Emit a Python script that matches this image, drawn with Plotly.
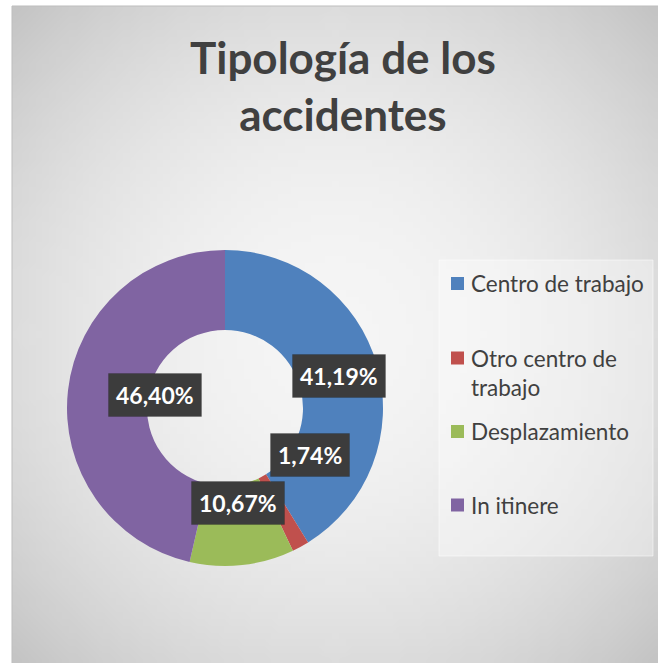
import base64, math, struct, zlib
import plotly.graph_objects as go

# ---- data ----
categories = ["Centro de trabajo", "Otro centro de trabajo", "Desplazamiento", "In itinere"]
legend_labels = ["Centro de trabajo", "Otro centro de<br>trabajo", "Desplazamiento", "In itinere"]
percentages = [41.19, 1.74, 10.67, 46.40]
colors = ["#4F81BD", "#C0504D", "#9BBB59", "#8064A2"]
title_text = "Tipología de los<br>accidentes"

W, H = 658, 663
def px(x): return x / W
def py(y): return 1 - y / H

# ---- background radial gradient image ----
def gradient_png(n=96):
    rows = []
    for j in range(n):
        row = bytearray([0])
        for i in range(n):
            dx = (i + 0.5) / n - 0.5
            dy = (j + 0.5) / n - 0.5
            d = math.sqrt(dx * dx + dy * dy) / math.sqrt(0.5)
            v = 245 - (245 - 195) * d ** 2.0
            row.append(max(0, min(255, int(round(v)))))
        rows.append(bytes(row))
    raw = b"".join(rows)
    def chunk(t, data):
        c = struct.pack(">I", len(data)) + t + data
        return c + struct.pack(">I", zlib.crc32(t + data) & 0xFFFFFFFF)
    png = b"\x89PNG\r\n\x1a\n"
    png += chunk(b"IHDR", struct.pack(">IIBBBBB", n, n, 8, 0, 0, 0, 0))
    png += chunk(b"IDAT", zlib.compress(raw, 9))
    png += chunk(b"IEND", b"")
    return "data:image/png;base64," + base64.b64encode(png).decode()

# ---- donut geometry (pixels) ----
cx, cy, R, r_in = 225, 408, 158, 78

fig = go.Figure()
fig.add_trace(go.Pie(
    labels=categories, values=percentages,
    marker=dict(colors=colors, line=dict(width=0)),
    hole=r_in / R, sort=False, direction="clockwise", rotation=0,
    textinfo="none", showlegend=False, hoverinfo="label+percent",
    domain=dict(x=[px(cx - R), px(cx + R)], y=[py(cy + R), py(cy - R)]),
))

annotations = []
shapes = []

# chart area border
shapes.append(dict(type="rect", xref="paper", yref="paper",
                   x0=px(12), x1=px(W + 2), y0=py(H + 2), y1=py(6),
                   line=dict(color="#bdbdbd", width=1), layer="below"))

# data labels
label_offsets = {1: (29, 35)}  # manual nudge (best-fit style) for the small slice
rho = (R + r_in) / 2
cum = 0.0
total = sum(percentages)
for i, v in enumerate(percentages):
    mid = (cum + v / 2) / total * 2 * math.pi
    cum += v
    lx = cx + rho * math.sin(mid)
    ly = cy - rho * math.cos(mid)
    xs, ys = label_offsets.get(i, (0, 0))
    txt = f"{v:.2f}".replace(".", ",") + "%"
    annotations.append(dict(x=px(lx), y=py(ly), xref="paper", yref="paper",
                            text=txt, showarrow=False, xshift=xs, yshift=ys,
                            font=dict(family="Lato", size=23, color="white", weight="bold"),
                            bgcolor="#3c3c3c", borderpad=7,
                            bordercolor="rgba(0,0,0,0.15)", borderwidth=1))

# title
annotations.append(dict(x=px(343), y=py(29), xref="paper", yref="paper",
                        xanchor="center", yanchor="top", text=title_text, showarrow=False,
                        font=dict(family="Lato", size=44, color="#404040", weight="bold")))

# manual legend
shapes.append(dict(type="rect", xref="paper", yref="paper",
                   x0=px(439), x1=px(653), y0=py(556), y1=py(260),
                   fillcolor="rgba(255,255,255,0.35)", line=dict(color="rgba(255,255,255,0.5)", width=1)))
leg_first_line = [283.5, 358, 431.5, 505]
line_h = 29
for i, lab in enumerate(legend_labels):
    yc = leg_first_line[i]
    shapes.append(dict(type="rect", xref="paper", yref="paper",
                       x0=px(451), x1=px(464), y0=py(yc + 6.5), y1=py(yc - 6.5),
                       fillcolor=colors[i], line=dict(width=0)))
    nlines = lab.count("<br>") + 1
    ymid = yc + (nlines - 1) * line_h / 2
    annotations.append(dict(x=px(469), y=py(ymid), xref="paper", yref="paper",
                            xanchor="left", yanchor="middle", align="left",
                            text=lab, showarrow=False,
                            font=dict(family="Lato", size=22.5, color="#404040")))

fig.update_layout(
    width=W, height=H, autosize=False,
    margin=dict(l=0, r=0, t=0, b=0),
    paper_bgcolor="white", plot_bgcolor="white",
    shapes=shapes, annotations=annotations,
    images=[dict(source=gradient_png(), xref="paper", yref="paper",
                 x=px(12), y=py(6), sizex=px(W - 12), sizey=(H - 6) / H,
                 xanchor="left", yanchor="top", sizing="stretch", layer="below")],
)

fig.write_html("out.html", config={"displayModeBar": False},
               post_script="document.body.style.margin='0px';")
